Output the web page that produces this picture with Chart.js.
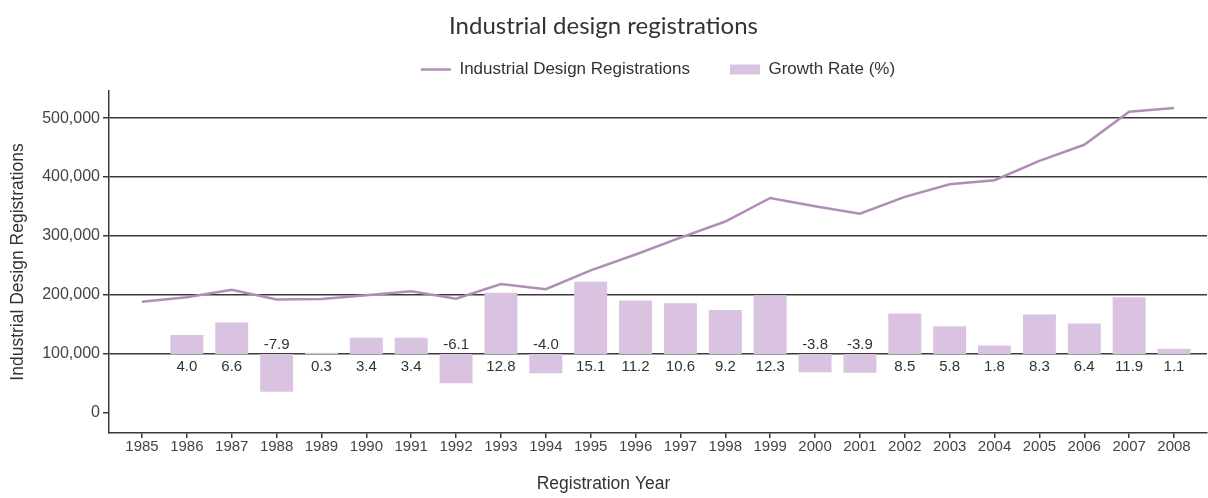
<!DOCTYPE html>
<html>
<head>
<meta charset="utf-8">
<script src="https://cdn.jsdelivr.net/npm/chart.js@4.4.1/dist/chart.umd.min.js"></script>
<style>
  html, body { margin: 0; padding: 0; background: #ffffff; }
  #wrap { width: 1208px; height: 498px; }
</style>
</head>
<body>
<div id="wrap"><canvas id="c" width="1208" height="498"></canvas></div>
<script>
// ---- data ----
const years = [1985, 1986, 1987, 1988, 1989, 1990, 1991, 1992, 1993, 1994, 1995, 1996,
               1997, 1998, 1999, 2000, 2001, 2002, 2003, 2004, 2005, 2006, 2007, 2008];
const registrations = [188600, 196200, 209100, 192600, 193200, 199700, 206500, 193900,
                       218700, 210000, 241700, 268800, 297300, 324600, 364600, 350700,
                       337800, 366500, 387700, 394700, 427500, 454800, 511000, 517000];
const growthRate = [null, 4.0, 6.6, -7.9, 0.3, 3.4, 3.4, -6.1, 12.8, -4.0, 15.1, 11.2,
                    10.6, 9.2, 12.3, -3.8, -3.9, 8.5, 5.8, 1.8, 8.3, 6.4, 11.9, 1.1];
const yTickValues = [0, 100000, 200000, 300000, 400000, 500000];

const chartTitle = 'Industrial design registrations';
const lineLabel = 'Industrial Design Registrations';
const barLabel = 'Growth Rate (%)';
const xTitle = 'Registration Year';
const yTitle = 'Industrial Design Registrations';

const SANS = "'Liberation Sans', Arial, sans-serif";
const LINE_COLOR = '#b08db6';
const BAR_COLOR = '#dac3e1';
const DARK = '#3a3a3a';

const barLabelPlugin = {
  id: 'barLabels',
  afterDatasetsDraw(chart) {
    const ctx = chart.ctx;
    const meta = chart.getDatasetMeta(1);
    const base = chart.scales.y2.getPixelForValue(0);
    ctx.save();
    ctx.font = '15px ' + SANS;
    ctx.fillStyle = '#333';
    ctx.textAlign = 'center';
    ctx.textBaseline = 'middle';
    meta.data.forEach((bar, i) => {
      const v = growthRate[i];
      if (v === null || v === undefined) return;
      ctx.fillText(v.toFixed(1), bar.x, v >= 0 ? base + 13 : base - 9);
    });
    ctx.restore();
  }
};

new Chart(document.getElementById('c'), {
  type: 'bar',
  data: {
    datasets: [
      {
        type: 'line',
        label: lineLabel,
        data: years.map((y, i) => ({ x: y, y: registrations[i] })),
        borderColor: LINE_COLOR,
        backgroundColor: LINE_COLOR,
        borderWidth: 2.5,
        pointRadius: 0,
        pointStyle: 'line',
        tension: 0,
        yAxisID: 'y',
        xAxisID: 'x'
      },
      {
        type: 'bar',
        label: barLabel,
        data: years.map((y, i) => ({ x: y, y: growthRate[i] })),
        backgroundColor: BAR_COLOR,
        borderWidth: 0,
        pointStyle: 'rect',
        barPercentage: 0.735,
        categoryPercentage: 1,
        yAxisID: 'y2',
        xAxisID: 'x'
      }
    ]
  },
  options: {
    responsive: false,
    animation: false,
    layout: { padding: { left: 0, right: 1, top: 0, bottom: 0 } },
    plugins: {
      title: {
        display: true,
        text: chartTitle,
        color: '#333',
        font: { family: 'Lato, sans-serif', size: 24, weight: 'normal' },
        padding: { top: 11.6, bottom: -19.4 }
      },
      subtitle: {
        display: true,
        position: 'bottom',
        text: xTitle,
        color: '#333',
        font: { family: SANS, size: 17.5, weight: 'normal' },
        padding: { top: 0, bottom: 3.8 }
      },
      legend: {
        display: true,
        position: 'top',
        fullSize: false,
        labels: {
          usePointStyle: true,
          pointStyleWidth: 30,
          boxHeight: 10,
          padding: 40,
          color: '#333',
          font: { family: SANS, size: 17 }
        }
      },
      tooltip: { enabled: false }
    },
    scales: {
      x: {
        type: 'linear',
        position: 'bottom',
        offset: false,
        min: years[0] - 0.735,
        max: years[years.length - 1] + 0.735,
        afterFit(s) { s.height = 40.2; },
        grid: { display: true, offset: false, drawOnChartArea: false, drawTicks: true, tickLength: 5, color: DARK, lineWidth: 1.5 },
        border: { display: true, color: DARK, width: 1.5 },
        ticks: {
          stepSize: 1,
          includeBounds: false,
          autoSkip: false,
          maxRotation: 0,
          padding: 0,
          color: '#444',
          font: { family: SANS, size: 15 },
          callback: (v) => String(v)
        }
      },
      spacer: {
        type: 'linear',
        position: 'top',
        display: true,
        afterFit(s) { s.height = 3; },
        grid: { display: false },
        border: { display: false },
        ticks: { display: false }
      },
      y: {
        type: 'linear',
        position: 'left',
        min: -34000,
        max: 546000,
        afterFit(s) { s.width = 109; },
        afterBuildTicks(s) { s.ticks = yTickValues.map(v => ({ value: v })); },
        grid: {
          color: (c) => (c.tick && c.tick.value === 0) ? 'rgba(0,0,0,0)' : DARK,
          tickColor: DARK,
          lineWidth: 1.5,
          tickLength: 6
        },
        border: { display: true, color: DARK, width: 1.5 },
        ticks: {
          padding: 3,
          color: '#444',
          font: { family: SANS, size: 16 },
          callback: (v) => Number(v).toLocaleString('en-US')
        },
        title: {
          display: true,
          text: yTitle,
          color: '#333',
          font: { family: SANS, size: 17.5 },
          padding: { top: 7.5, bottom: 0 }
        }
      },
      y2: {
        type: 'linear',
        position: 'right',
        display: false,
        min: -16.5,
        max: 55
      }
    }
  },
  plugins: [barLabelPlugin]
});
</script>
</body>
</html>
